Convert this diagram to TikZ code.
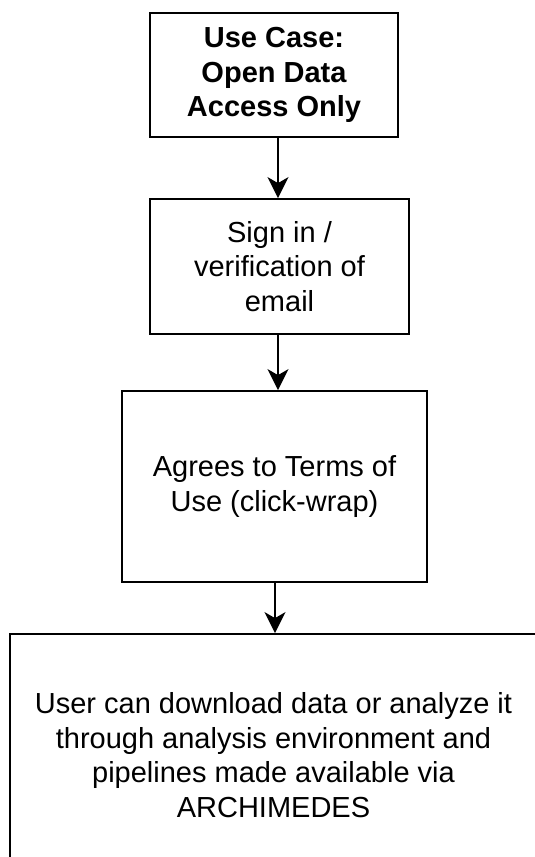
\documentclass[tikz,border=0pt]{standalone}
\usepackage{fontspec}
\setmainfont{Liberation Sans}
\usetikzlibrary{arrows.meta}

\begin{document}
\begin{tikzpicture}[
    x=1pt, y=-1pt,
    stepbox/.style={draw, line width=1.8pt, align=center, inner sep=0pt,
        font=\fontsize{29}{34.5}\selectfont},
    conn/.style={-{Stealth[length=21pt, width=21pt, inset=6pt]}, line width=1.8pt}
    ]
    \useasboundingbox (0,0) rectangle (535,857);
    \clip (0,0) rectangle (535,857);

    \node [stepbox, minimum width=248pt, minimum height=124pt] (usecase) at (274,75)
        {\bfseries Use Case:\\\bfseries Open Data\\\bfseries Access Only};
    \node [stepbox, minimum width=259pt, minimum height=135pt] (signin) at (279.5,266.5)
        {Sign in /\\verification of\\email};
    \node [stepbox, minimum width=305pt, minimum height=191pt] (terms) at (274.5,486.5)
        {Agrees to Terms of\\Use (click-wrap)};
    \node [stepbox, minimum width=527pt, minimum height=242pt] (access) at (273.5,755)
        {User can download data or analyze it\\through analysis environment and\\pipelines made available via\\ARCHIMEDES};

    \draw [conn] ([xshift=4pt]usecase.south) -- ([xshift=4pt]usecase.south |- signin.north);
    \draw [conn] ([xshift=-1.5pt]signin.south) -- ([xshift=-1.5pt]signin.south |- terms.north);
    \draw [conn] ([xshift=.5pt]terms.south) -- ([xshift=.5pt]terms.south |- access.north);
\end{tikzpicture}
\end{document}
